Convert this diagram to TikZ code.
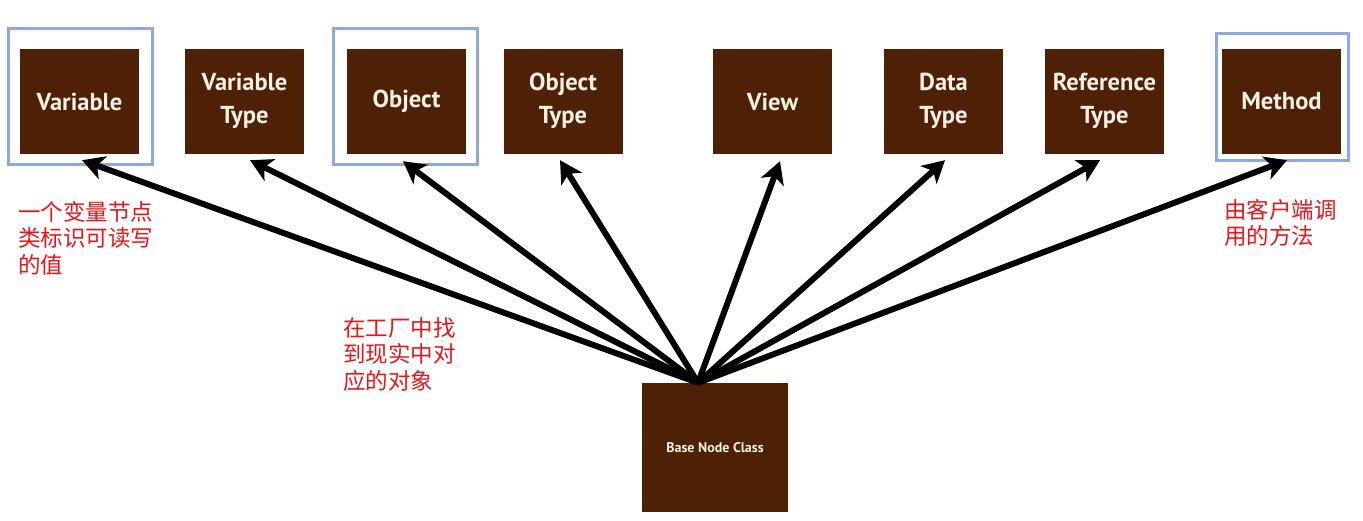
\documentclass[tikz,border=0pt]{standalone}
\usepackage{fontspec}
\setmainfont{PT Sans}
\newfontfamily\cjk{Noto Sans CJK SC}
\usetikzlibrary{arrows.meta,calc}
\definecolor{boxbrown}{RGB}{78,33,6}
\definecolor{boxtext}{RGB}{248,240,226}
\definecolor{framebl}{RGB}{142,169,219}
\definecolor{notered}{RGB}{235,20,25}
\newcommand{\twolines}[2]{\raisebox{-5pt}{\begin{tabular}{@{}c@{}}#1\\[3pt]#2\end{tabular}}}
\begin{document}
\begin{tikzpicture}[x=1pt,y=-1pt,
  cls/.style={fill=boxbrown,text=boxtext,minimum width=119pt,minimum height=105pt,inner sep=0pt,align=center,font=\bfseries\fontsize{24.5}{30}\selectfont},
  hl/.style={draw=framebl,line width=3pt},
  arr/.style={line width=6pt,-{Stealth[length=22pt,width=24pt,inset=6pt]}},
  note/.style={text=notered,anchor=north west,inner sep=0pt,align=left,font=\cjk\fontsize{22.5}{26.5}\selectfont}]
\useasboundingbox (0,0) rectangle (1363,521);
% highlight frames
\draw[hl] (8.5,28.5) rectangle (152.5,164.5);
\draw[hl] (333.5,28.5) rectangle (477.5,164.5);
\draw[hl] (1216.5,33.5) rectangle (1348.5,160.5);
% class boxes
\node[cls] (var) at (79.5,101.5) {Variable};
\node[cls] (vtype) at (244.5,101.5) {\twolines{Variable}{Type}};
\node[cls] (obj) at (406.5,101.5) {Object};
\node[cls] (otype) at (563,101.5) {\twolines{Object}{Type}};
\node[cls] (view) at (772.5,101.5) {View};
\node[cls] (data) at (943.5,101.5) {\twolines{Data}{Type}};
\node[cls] (ref) at (1104.5,101.5) {\twolines{Reference}{Type}};
\node[cls] (meth) at (1281.5,101.5) {Method};
\node[cls,minimum width=146pt,minimum height=129pt,font=\bfseries\fontsize{14}{16}\selectfont] (base) at (715,447.5) {Base Node Class};
\coordinate (hub) at ($(base.north)+(-17,0)$);
% arrows
\draw[arr] (hub) -- ($(var.south)+(2.5,6)$);
\draw[arr] (hub) -- ($(vtype.south)+(5.5,6)$);
\draw[arr] (hub) -- ($(obj.south)+(-3.5,7)$);
\draw[arr] (hub) -- ($(otype.south)+(-3,6)$);
\draw[arr] (hub) -- ($(view.south)+(7.5,7)$);
\draw[arr] (hub) -- ($(data.south)+(1.5,6)$);
\draw[arr] (hub) -- ($(ref.south)+(-4.5,6)$);
\draw[arr] (hub) -- ($(meth.south)+(5.5,6)$);
% notes
\node[note] (n1) at (18,201) {一个变量节点\\类标识可读写\\的值};
\node[note] (n2) at (343,317) {在工厂中找\\到现实中对\\应的对象};
\node[note] (n3) at (1224,199) {由客户端调\\用的方法};
\end{tikzpicture}
\end{document}
